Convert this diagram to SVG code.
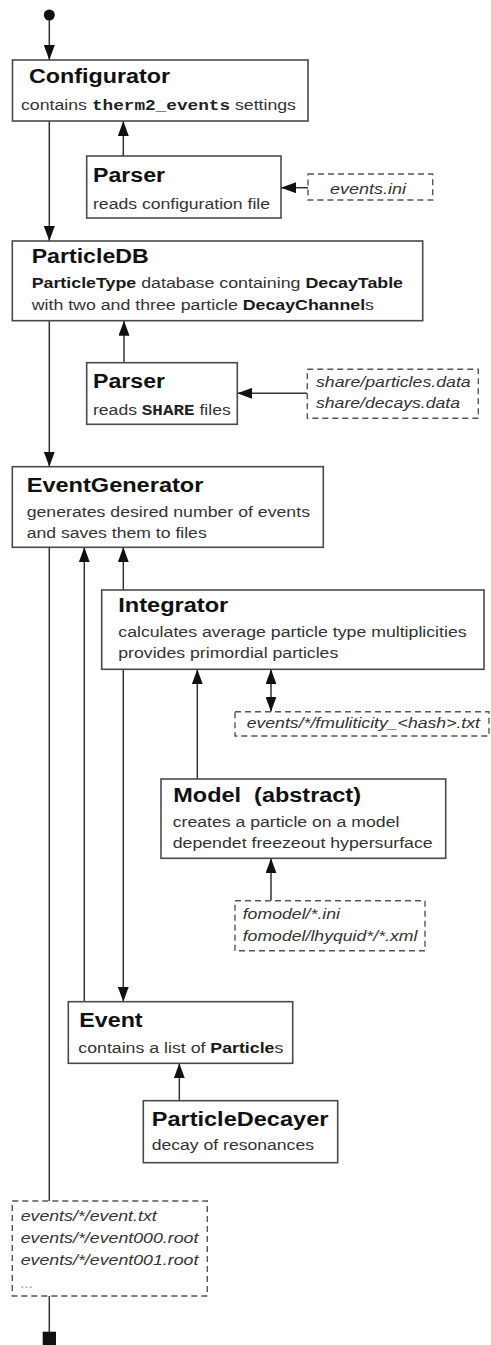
<svg xmlns="http://www.w3.org/2000/svg" width="491" height="1345" viewBox="0 0 491 1345">
  <style>
    .box { fill: #fff; stroke: #4a4a4a; stroke-width: 1.6; }
    .file { fill: #fff; stroke: #555; stroke-width: 1.4; stroke-dasharray: 6 4; }
    .edge { fill: none; stroke: #333; stroke-width: 1.5; }
    .title { font-family: "Liberation Sans", Arial, sans-serif; font-size: 20px; font-weight: bold; fill: #111; }
    .body { font-family: "Liberation Sans", Arial, sans-serif; font-size: 14px; fill: #333; }
    .b { font-weight: bold; fill: #1a1a1a; }
    .mono { font-family: "Liberation Mono", "Courier New", monospace; font-weight: bold; fill: #222; }
    .path { font-family: "Liberation Sans", Arial, sans-serif; font-size: 14px; font-style: italic; fill: #333; }
  </style>
  <defs>
    <marker id="arrow" viewBox="0 0 15 11" refX="15" refY="5.5" markerWidth="15" markerHeight="11" markerUnits="userSpaceOnUse" orient="auto-start-reverse">
      <path d="M0,0 L15,5.5 L0,11 z" fill="#111"/>
    </marker>
  </defs>

  <!-- connectors -->
  <g id="connectors">
    <circle cx="49.3" cy="15" r="5.5" fill="#111"/>
    <line class="edge" x1="49.3" y1="20" x2="49.3" y2="60" marker-end="url(#arrow)"/>
    <line class="edge" x1="123.3" y1="156" x2="123.3" y2="121" marker-end="url(#arrow)"/>
    <line class="edge" x1="308" y1="187.7" x2="281" y2="187.7" marker-end="url(#arrow)"/>
    <line class="edge" x1="49.3" y1="121" x2="49.3" y2="241" marker-end="url(#arrow)"/>
    <line class="edge" x1="124" y1="362.7" x2="124" y2="320.7" marker-end="url(#arrow)"/>
    <line class="edge" x1="307.3" y1="393.3" x2="237.3" y2="393.3" marker-end="url(#arrow)"/>
    <line class="edge" x1="49.3" y1="320.7" x2="49.3" y2="466.7" marker-end="url(#arrow)"/>
    <line class="edge" x1="123.3" y1="590" x2="123.3" y2="547.3" marker-end="url(#arrow)"/>
    <line class="edge" x1="84.3" y1="1001.7" x2="84.3" y2="547.3" marker-end="url(#arrow)"/>
    <line class="edge" x1="123.3" y1="669.3" x2="123.3" y2="1001.7" marker-end="url(#arrow)"/>
    <line class="edge" x1="197.3" y1="779" x2="197.3" y2="669.3" marker-end="url(#arrow)"/>
    <line class="edge" x1="271" y1="669.3" x2="271" y2="711.7" marker-start="url(#arrow)" marker-end="url(#arrow)"/>
    <line class="edge" x1="271" y1="900.7" x2="271" y2="858.3" marker-end="url(#arrow)"/>
    <line class="edge" x1="179.3" y1="1100.7" x2="179.3" y2="1063.3" marker-end="url(#arrow)"/>
    <line class="edge" x1="49.3" y1="547.3" x2="49.3" y2="1201"/>
    <line class="edge" x1="49.3" y1="1296" x2="49.3" y2="1332"/>
    <rect x="42.7" y="1331.7" width="13.3" height="13.3" fill="#111"/>
  </g>

  <g id="configurator">
    <rect class="box" x="12.5" y="60" width="295.5" height="61"/>
    <text class="title" x="29" y="83" textLength="141" lengthAdjust="spacingAndGlyphs">Configurator</text>
    <text class="body" x="21" y="110" textLength="275" lengthAdjust="spacingAndGlyphs">contains <tspan class="mono">therm2_events</tspan> settings</text>
  </g>

  <g id="parser-config">
    <rect class="box" x="86.7" y="156" width="194.3" height="62"/>
    <text class="title" x="93" y="182.3" textLength="72" lengthAdjust="spacingAndGlyphs">Parser</text>
    <text class="body" x="93" y="209.3" textLength="177" lengthAdjust="spacingAndGlyphs">reads configuration file</text>
  </g>

  <g id="file-events-ini">
    <rect class="file" x="308" y="174" width="124.7" height="26"/>
    <text class="path" x="330" y="194" textLength="76" lengthAdjust="spacingAndGlyphs">events.ini</text>
  </g>

  <g id="particledb">
    <rect class="box" x="12.3" y="241" width="410.4" height="79.7"/>
    <text class="title" x="31.7" y="263.3" textLength="117" lengthAdjust="spacingAndGlyphs">ParticleDB</text>
    <text class="body" x="31.7" y="288.3" textLength="371.3" lengthAdjust="spacingAndGlyphs"><tspan class="b">ParticleType</tspan> database containing <tspan class="b">DecayTable</tspan></text>
    <text class="body" x="31.7" y="310" textLength="342.3" lengthAdjust="spacingAndGlyphs">with two and three particle <tspan class="b">DecayChannel</tspan>s</text>
  </g>

  <g id="parser-share">
    <rect class="box" x="86.7" y="362.7" width="150.6" height="61.6"/>
    <text class="title" x="93" y="388.3" textLength="72" lengthAdjust="spacingAndGlyphs">Parser</text>
    <text class="body" x="93" y="415" textLength="137.7" lengthAdjust="spacingAndGlyphs">reads <tspan class="mono">SHARE</tspan> files</text>
  </g>

  <g id="file-share">
    <rect class="file" x="307.3" y="369.3" width="171" height="49"/>
    <text class="path" x="316" y="386.7" textLength="154.7" lengthAdjust="spacingAndGlyphs">share/particles.data</text>
    <text class="path" x="316" y="408.3" textLength="144" lengthAdjust="spacingAndGlyphs">share/decays.data</text>
  </g>

  <g id="eventgenerator">
    <rect class="box" x="12.3" y="466.7" width="311" height="80.6"/>
    <text class="title" x="26.7" y="491.7" textLength="176.7" lengthAdjust="spacingAndGlyphs">EventGenerator</text>
    <text class="body" x="26.7" y="516.7" textLength="283.3" lengthAdjust="spacingAndGlyphs">generates desired number of events</text>
    <text class="body" x="26.7" y="538.3" textLength="180" lengthAdjust="spacingAndGlyphs">and saves them to files</text>
  </g>

  <g id="integrator">
    <rect class="box" x="101.7" y="590" width="382.3" height="79.3"/>
    <text class="title" x="118.3" y="612.3" textLength="110" lengthAdjust="spacingAndGlyphs">Integrator</text>
    <text class="body" x="118.3" y="636.7" textLength="348.3" lengthAdjust="spacingAndGlyphs">calculates average particle type multiplicities</text>
    <text class="body" x="118.3" y="658.3" textLength="220" lengthAdjust="spacingAndGlyphs">provides primordial particles</text>
  </g>

  <g id="file-multiplicity">
    <rect class="file" x="235" y="711.7" width="254" height="24.3"/>
    <text class="path" x="246.7" y="728.3" textLength="233.3" lengthAdjust="spacingAndGlyphs">events/*/fmuliticity_&lt;hash&gt;.txt</text>
  </g>

  <g id="model">
    <rect class="box" x="161" y="779" width="284.7" height="79.3"/>
    <text class="title" x="173.3" y="801.7" textLength="187.7" lengthAdjust="spacingAndGlyphs" xml:space="preserve">Model  (abstract)</text>
    <text class="body" x="172.7" y="826.7" textLength="226.7" lengthAdjust="spacingAndGlyphs">creates a particle on a model</text>
    <text class="body" x="172.7" y="848.3" textLength="260" lengthAdjust="spacingAndGlyphs">dependet freezeout hypersurface</text>
  </g>

  <g id="file-fomodel">
    <rect class="file" x="235" y="900.7" width="190" height="50"/>
    <text class="path" x="242.7" y="919.3" textLength="97.3" lengthAdjust="spacingAndGlyphs">fomodel/*.ini</text>
    <text class="path" x="242.7" y="941" textLength="174.7" lengthAdjust="spacingAndGlyphs">fomodel/lhyquid*/*.xml</text>
  </g>

  <g id="event">
    <rect class="box" x="68.3" y="1001.7" width="224.4" height="61.6"/>
    <text class="title" x="79.3" y="1027.3" textLength="63.3" lengthAdjust="spacingAndGlyphs">Event</text>
    <text class="body" x="78.3" y="1052.7" textLength="205" lengthAdjust="spacingAndGlyphs">contains a list of <tspan class="b">Particle</tspan>s</text>
  </g>

  <g id="particledecayer">
    <rect class="box" x="143.3" y="1100.7" width="194.4" height="62"/>
    <text class="title" x="151.7" y="1126" textLength="176.7" lengthAdjust="spacingAndGlyphs">ParticleDecayer</text>
    <text class="body" x="151.7" y="1150" textLength="162.3" lengthAdjust="spacingAndGlyphs">decay of resonances</text>
  </g>

  <g id="file-events-output">
    <rect class="file" x="12.3" y="1201" width="195" height="95"/>
    <text class="path" x="20.7" y="1221" textLength="136" lengthAdjust="spacingAndGlyphs">events/*/event.txt</text>
    <text class="path" x="20.7" y="1243.3" textLength="177.7" lengthAdjust="spacingAndGlyphs">events/*/event000.root</text>
    <text class="path" x="20.7" y="1265" textLength="177.7" lengthAdjust="spacingAndGlyphs">events/*/event001.root</text>
    <text class="path" x="20.7" y="1288.3" textLength="13" lengthAdjust="spacingAndGlyphs" fill="#999" style="fill:#999">...</text>
  </g>
</svg>
